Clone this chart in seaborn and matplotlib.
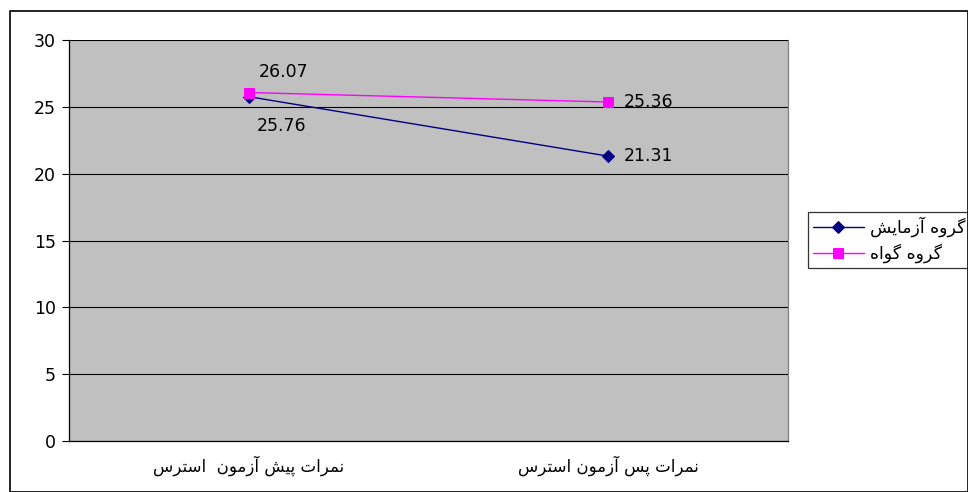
import matplotlib
matplotlib.use("Agg")
import matplotlib.pyplot as plt
import matplotlib.patches as mpatches
import seaborn as sns
import pandas as pd

# ---------------- data ----------------
categories = ["نمرات پیش آزمون  استرس", "نمرات پس آزمون استرس"]
series_names = ["گروه آزمایش", "گروه گواه"]
experimental = [25.76, 21.31]
control = [26.07, 25.36]
y_ticks = [0, 5, 10, 15, 20, 25, 30]

# ------------- minimal Arabic/Persian shaping -------------
FORMS = {
    "\u0627": ("\uFE8D", "\uFE8E", None, None),
    "\u0622": ("\uFE81", "\uFE82", None, None),
    "\u0631": ("\uFEAD", "\uFEAE", None, None),
    "\u0632": ("\uFEAF", "\uFEB0", None, None),
    "\u0648": ("\uFEED", "\uFEEE", None, None),
    "\u062A": ("\uFE95", "\uFE96", "\uFE97", "\uFE98"),
    "\u0633": ("\uFEB1", "\uFEB2", "\uFEB3", "\uFEB4"),
    "\u0634": ("\uFEB5", "\uFEB6", "\uFEB7", "\uFEB8"),
    "\u0645": ("\uFEE1", "\uFEE2", "\uFEE3", "\uFEE4"),
    "\u0646": ("\uFEE5", "\uFEE6", "\uFEE7", "\uFEE8"),
    "\u0647": ("\uFEE9", "\uFEEA", "\uFEEB", "\uFEEC"),
    "\u067E": ("\uFB56", "\uFB57", "\uFB58", "\uFB59"),
    "\u06AF": ("\uFB92", "\uFB93", "\uFB94", "\uFB95"),
    "\u06CC": ("\uFBFC", "\uFBFD", "\uFBFE", "\uFBFF"),
}


def shape(s):
    out = []
    for i, c in enumerate(s):
        if c not in FORMS:
            out.append(c)
            continue
        prev = s[i - 1] if i > 0 else None
        nxt = s[i + 1] if i + 1 < len(s) else None
        jp = prev in FORMS and FORMS[prev][2] is not None
        jn = FORMS[c][2] is not None and nxt in FORMS
        iso, fin, ini, med = FORMS[c]
        if jp and jn:
            out.append(med)
        elif jp:
            out.append(fin)
        elif jn:
            out.append(ini)
        else:
            out.append(iso)
    return "".join(reversed(out))


# ---------------- plot ----------------
sns.set_style("white")
plt.rcParams["font.family"] = ["DejaVu Sans"]
plt.rcParams["text.color"] = "black"
plt.rcParams["xtick.labelcolor"] = "black"
plt.rcParams["ytick.labelcolor"] = "black"

W, H = 968, 492
fig = plt.figure(figsize=(W / 100, H / 100), dpi=100)
ax = fig.add_axes([69 / W, 1 - 441 / H, (788 - 69) / W, (441 - 40) / H])
ax.set_facecolor("#C0C0C0")

df = pd.DataFrame({
    "cat": categories * 2,
    "val": experimental + control,
    "grp": [series_names[0]] * 2 + [series_names[1]] * 2,
})

colors = {series_names[0]: "#000080", series_names[1]: "#FF00FF"}
markers = {series_names[0]: "D", series_names[1]: "s"}
msize = {series_names[0]: 6, series_names[1]: 6.5}

for g in series_names:
    sub = df[df["grp"] == g]
    sns.lineplot(data=sub, x="cat", y="val", ax=ax, color=colors[g],
                 marker=markers[g], markersize=msize[g], markeredgecolor=colors[g],
                 linewidth=1, label=shape(g), sort=False)

ax.set_xlim(-0.5, 1.5)
ax.set_ylim(0, 30)
ax.set_yticks(y_ticks)
ax.set_yticklabels([str(t) for t in y_ticks], fontsize=12.5)
ax.set_xticks(range(len(categories)))
ax.set_xticklabels([shape(c) for c in categories], fontsize=12)
ax.set_xticks([-0.5, 0.5, 1.5], minor=True)
ax.tick_params(axis="x", which="major", length=0, pad=10.5)
ax.tick_params(axis="x", which="minor", length=5, width=0.8, color="black", direction="out")
ax.tick_params(axis="y", which="major", length=5, width=0.8, color="black",
               direction="out", left=True, pad=4.5)
ax.set_xlabel("")
ax.set_ylabel("")

ax.grid(axis="y", color="black", linewidth=0.8)
ax.set_axisbelow(True)
for side in ["left", "bottom"]:
    ax.spines[side].set_color("black")
    ax.spines[side].set_linewidth(0.9)
ax.spines["top"].set_visible(False)
ax.spines["right"].set_color("#808080")
ax.spines["right"].set_linewidth(0.9)

# data labels
ex_offsets = [(23.5, -21), (11.5, 0)]
ex_align = [("center", "center"), ("left", "center")]
ct_offsets = [(25, 14.5), (11.5, 0)]
ct_align = [("center", "center"), ("left", "center")]
for i, cat in enumerate(categories):
    ax.annotate(f"{experimental[i]:.2f}", (i, experimental[i]), xytext=ex_offsets[i],
                textcoords="offset points", ha=ex_align[i][0], va=ex_align[i][1],
                fontsize=12.5)
    ax.annotate(f"{control[i]:.2f}", (i, control[i]), xytext=ct_offsets[i],
                textcoords="offset points", ha=ct_align[i][0], va=ct_align[i][1],
                fontsize=12.5)

# legend
leg = ax.legend(loc="center left", bbox_to_anchor=(808 / W, 1 - 240 / H),
                bbox_transform=fig.transFigure, frameon=True, fancybox=False,
                edgecolor="black", prop={"size": 12.5},
                handlelength=2.9, borderpad=0.3, labelspacing=0.35,
                handletextpad=0.35, borderaxespad=0)
leg.get_frame().set_linewidth(0.9)

# outer chart border
fig.patches.append(mpatches.Rectangle((10 / W, 0.5 / H), (W - 10.5) / W, (H - 11) / H,
                                      transform=fig.transFigure, fill=False,
                                      edgecolor="black", linewidth=1.2))

fig.savefig("out.png", dpi=100)
